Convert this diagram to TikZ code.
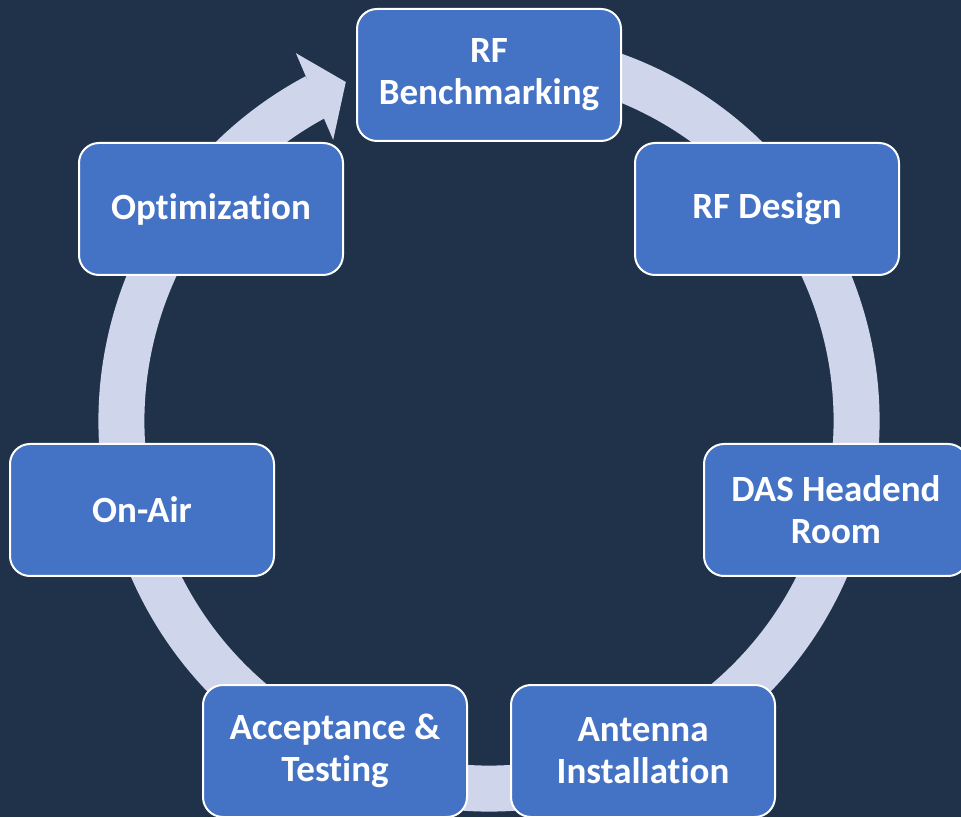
\documentclass[tikz,border=0pt]{standalone}
\usepackage{fontspec}
\setmainfont{Carlito}[Ligatures=NoCommon]
\definecolor{bgnavy}{RGB}{31,50,73}
\definecolor{boxblue}{RGB}{68,114,196}
\definecolor{ringgrey}{RGB}{207,213,234}
\begin{document}
\begin{tikzpicture}
  [x=1pt,y=1pt,every node/.style={draw=white, line width=2pt, fill=boxblue, rounded corners=20pt,
    minimum width=264pt, minimum height=132pt, align=center, text=white,
    font=\fontsize{37}{42}\selectfont\bfseries}]
  \path[use as bounding box, fill=bgnavy] (0,0) rectangle (961,817);
  \coordinate (c) at (489,396);

  % ring with arrow head
  \draw[ringgrey, line width=46pt] ([shift={(75:367.5)}]c) arc[start angle=75, end angle=-242, radius=367.5];
  \fill[ringgrey] ([shift={(117.7:415.5)}]c) -- ([shift={(112.9:368)}]c) -- ([shift={(119:321.4)}]c) -- cycle;

  \node (bench) at (489,742) {RF\\Benchmarking};
  \node (design) at (767,608) {RF Design};
  \node (das) at (836,307) {DAS Headend\\Room};
  \node (antenna) at (643,66) {Antenna\\Installation};
  \node (accept) at (335,66) {Acceptance \&\\Testing};
  \node (onair) at (142,307) {On-Air};
  \node (optim) at (211,608) {Optimization};
\end{tikzpicture}
\end{document}
